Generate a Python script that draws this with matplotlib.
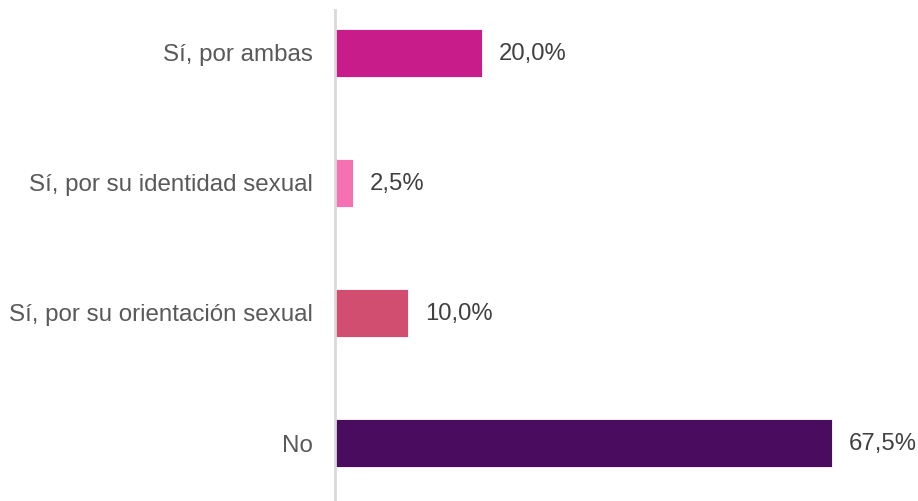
import matplotlib.pyplot as plt

# categorías y porcentajes
categorias = [
    "Sí, por ambas",
    "Sí, por su identidad sexual",
    "Sí, por su orientación sexual",
    "No",
]
valores = [20.0, 2.5, 10.0, 67.5]
colores = ["#C81C8A", "#F472B2", "#D14E70", "#4A0C5F"]

plt.rcParams["font.family"] = ["Liberation Sans", "DejaVu Sans"]

fig = plt.figure(figsize=(9.18, 5.01), dpi=100)
ax = fig.add_axes([0.3645, 0.0, 0.6018, 0.98])

pos = range(len(categorias))
ax.barh(pos, valores, height=0.37, color=colores, edgecolor="white", linewidth=0.6)

# etiquetas de valor al final de cada barra
for y, v in zip(pos, valores):
    ax.text(v + 2.3, y + 0.01, f"{v:.1f}%".replace(".", ","), va="center", ha="left",
            fontsize=17.2, color="#404040")

ax.set_xlim(0, 75)
ax.set_ylim(3.446, -0.33)
ax.set_yticks(list(pos))
ax.set_yticklabels(categorias, fontsize=17.4, color="#595959")
ax.tick_params(axis="y", length=0, pad=16)
ax.set_xticks([])

for lado in ["top", "right", "bottom"]:
    ax.spines[lado].set_visible(False)
ax.spines["left"].set_color("#D9D9D9")
ax.spines["left"].set_linewidth(2)

fig.savefig("out.png", dpi=100)
